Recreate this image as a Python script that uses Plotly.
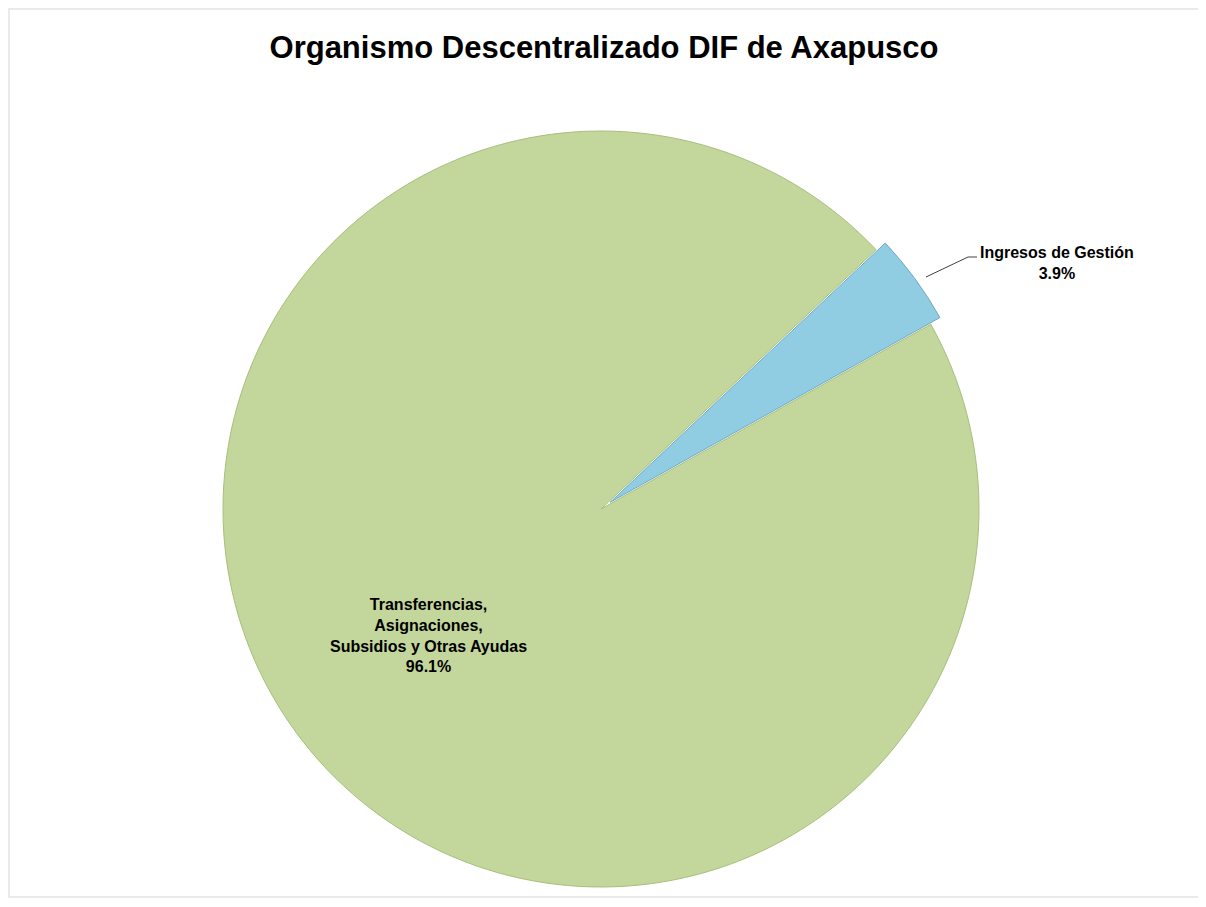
import plotly.graph_objects as go

title = "Organismo Descentralizado DIF de Axapusco"
labels = ["Ingresos de Gestión", "Transferencias, Asignaciones, Subsidios y Otras Ayudas"]
label_lines = [["Ingresos de Gestión"], ["Transferencias,", "Asignaciones,", "Subsidios y Otras Ayudas"]]
values = [3.9, 96.1]
colors = ["#91CDE2", "#C3D69B"]
edge_colors = ["#6FA9C2", "#A9BF7C"]

# page is offset by the default 8px body margin
OFF = 8
W, H = 1206 - OFF, 907 - OFF


def px(x, y):
    return (x - OFF) / W, 1 - (y - OFF) / H


fig = go.Figure()
cx, cy, R = 601, 509, 378
pull = 0.03
Rd = R * (1 + pull)
dx0, dy1 = px(cx - Rd, cy - Rd)
dx1, dy0 = px(cx + Rd, cy + Rd)
fig.add_trace(go.Pie(
    labels=labels,
    values=values,
    sort=False,
    direction="clockwise",
    rotation=46.7,
    pull=[pull, 0],
    marker=dict(colors=colors, line=dict(color=edge_colors, width=1)),
    textinfo="none",
    hoverinfo="label+percent",
    showlegend=False,
    domain=dict(x=[dx0, dx1], y=[dy0, dy1]),
))

font = dict(family="Liberation Sans, Arial, sans-serif", size=16, color="#000000")

# Blue label with leader line
bx, by = px(1057, 263)
fig.add_annotation(
    x=bx, y=by, xref="paper", yref="paper", showarrow=False,
    xanchor="center", yanchor="middle",
    text="<b>" + "<br>".join(label_lines[0]) + f"<br>{values[0]:.1f}%</b>",
    font=font, align="center",
)
x0, y0 = px(926, 277)
x1, y1 = px(968, 257)
x2, _ = px(977, 257)
fig.add_shape(type="path", xref="paper", yref="paper",
              path=f"M {x0} {y0} L {x1} {y1} L {x2} {y1}",
              line=dict(color="#404040", width=1))

# Green label
gx, gy = px(428, 635)
fig.add_annotation(
    x=gx, y=gy, xref="paper", yref="paper", showarrow=False,
    xanchor="center", yanchor="middle",
    text="<b>" + "<br>".join(label_lines[1]) + f"<br>{values[1]:.1f}%</b>",
    font=font, align="center",
)

# faint chart frame
fx0, fy1 = px(9, 9)
fx1, fy0 = px(1203, 897)
fig.add_shape(type="rect", xref="paper", yref="paper", x0=fx0, y0=fy0, x1=fx1, y1=fy1,
              line=dict(color="#E4E4E4", width=1.5))

ty = px(0, 47)[1]
fig.update_layout(
    width=W, height=H,
    margin=dict(l=0, r=0, t=0, b=0),
    paper_bgcolor="#FFFFFF",
    plot_bgcolor="#FFFFFF",
    title=dict(text="<b>" + title + "</b>", x=px(604, 0)[0], xanchor="center", y=ty, yanchor="middle",
               font=dict(family="Liberation Sans, Arial, sans-serif", size=31, color="#000000")),
)

fig.write_html("out.html")
